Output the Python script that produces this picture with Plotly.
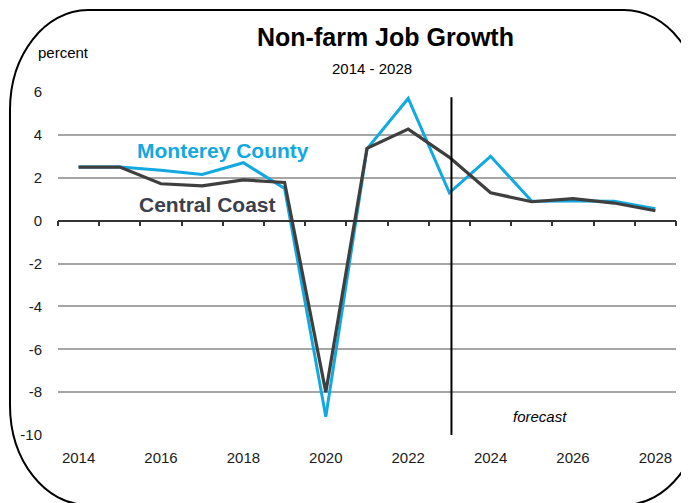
## Non-farm job growth, Monterey County vs Central Coast
import plotly.graph_objects as go

years = list(range(2014, 2029))
monterey = [2.5, 2.5, 2.35, 2.15, 2.7, 1.5, -9.15, 3.35, 5.7, 1.3, 3.0, 0.9, 0.92, 0.9, 0.55]
central_coast = [2.5, 2.5, 1.72, 1.62, 1.9, 1.78, -8.0, 3.37, 4.27, 2.95, 1.3, 0.88, 1.03, 0.82, 0.46]
year_labels = ['2014', '2016', '2018', '2020', '2022', '2024', '2026', '2028']
y_ticks = [6, 4, 2, 0, -2, -4, -6, -8, -10]
forecast_start = 2023

BLUE = '#12A8E0'
DARK = '#3F3F3F'
FONT = 'Liberation Sans, Arial, sans-serif'

OFF = 8                      # page body margin
W, H = 689 - OFF, 503 - OFF
# plot area in page pixels: 58..676 x 92..435
L, R, T, B = 58 - OFF, 689 - 676, 92 - OFF, 503 - 435


def px2paper(x, y):
    # page pixel -> paper coords
    x, y = x - OFF, y - OFF
    return (x - L) / (W - L - R), (H - B - y) / (H - T - B)


def rounded_frame(x0, y0, x1, y1, rx, ry):
    k = 0.5523
    pts = [
        ('M', [(x0 + rx, y0)]),
        ('L', [(x1 - rx, y0)]),
        ('C', [(x1 - rx + k * rx, y0), (x1, y0 + ry - k * ry), (x1, y0 + ry)]),
        ('L', [(x1, y1 - ry)]),
        ('C', [(x1, y1 - ry + k * ry), (x1 - rx + k * rx, y1), (x1 - rx, y1)]),
        ('L', [(x0 + rx, y1)]),
        ('C', [(x0 + rx - k * rx, y1), (x0, y1 - ry + k * ry), (x0, y1 - ry)]),
        ('L', [(x0, y0 + ry)]),
        ('C', [(x0, y0 + ry - k * ry), (x0 + rx - k * rx, y0), (x0 + rx, y0)]),
    ]
    out = ''
    for cmd, ps in pts:
        out += cmd + ' ' + ' '.join('%.4f,%.4f' % px2paper(*p) for p in ps) + ' '
    return out + 'Z'


def paper_xy(x, y):
    return dict(zip(('x', 'y'), px2paper(x, y)))


fig = go.Figure()
fig.add_trace(go.Scatter(x=years, y=monterey, mode='lines', line=dict(color=BLUE, width=3),
                         name='Monterey County'))
fig.add_trace(go.Scatter(x=years, y=central_coast, mode='lines', line=dict(color=DARK, width=3.2),
                         name='Central Coast'))
# invisible trace so the zero-line axis gets drawn
fig.add_trace(go.Scatter(x=[years[0]], y=[0], xaxis='x2', mode='markers',
                         marker=dict(opacity=0), hoverinfo='skip', showlegend=False))

fig.add_shape(type='line', xref='x', yref='y', x0=forecast_start + 0.05, x1=forecast_start + 0.05,
              y0=-10, y1=5.75, line=dict(color='black', width=2))
fig.add_shape(type='path', xref='paper', yref='paper', path=rounded_frame(10, 10, 702, 505, 78, 100),
              line=dict(color='black', width=2), fillcolor='rgba(0,0,0,0)')

fig.update_layout(
    width=W, height=H,
    margin=dict(l=L, r=R, t=T, b=B),
    paper_bgcolor='white', plot_bgcolor='white',
    showlegend=False,
    font=dict(family=FONT, size=14, color='#1a1a1a'),
    xaxis=dict(range=[2013.5, 2028.5], tickvals=[int(y) for y in year_labels], ticktext=year_labels,
               showgrid=False, zeroline=False, showline=False, ticks='', ticklabelstandoff=12,
               tickfont=dict(size=15), automargin=False),
    xaxis2=dict(range=[2013.5, 2028.5], overlaying='x', anchor='free', position=10 / 16,
                tickvals=[y - 0.5 for y in years] + [years[-1] + 0.5], showticklabels=False,
                ticks='outside', ticklen=5, tickcolor='#333333', tickwidth=1.5,
                showline=True, linecolor='#333333', linewidth=1.5, showgrid=False, zeroline=False),
    yaxis=dict(range=[-10, 6], tickvals=y_ticks, ticktext=[str(v) for v in y_ticks],
               showgrid=True, gridcolor='#a6a6a6', gridwidth=1.5,
               zeroline=False, showline=False, ticks='', ticklabelstandoff=15,
               tickfont=dict(size=15), automargin=False),
)

notes = [
    dict(text='<b>Non-farm Job Growth</b>', xref='paper', yref='paper', **paper_xy(385, 37),
         font=dict(size=25, color='black')),
    dict(text='2014 - 2028', xref='paper', yref='paper', **paper_xy(372, 68),
         font=dict(size=15, color='black')),
    dict(text='percent', xref='paper', yref='paper', **paper_xy(63, 52),
         font=dict(size=15, color='black')),
    dict(text='<b>Monterey County</b>', xref='x', yref='y', x=2017.5, y=3.25,
         font=dict(size=21, color=BLUE)),
    dict(text='<b>Central Coast</b>', xref='x', yref='y', x=2017.13, y=0.77,
         font=dict(size=21, color='#3B404C')),
    dict(text='<i>forecast</i>', xref='x', yref='y', x=2025.19, y=-9.15,
         font=dict(size=15, color='black')),
]
for n in notes:
    fig.add_annotation(showarrow=False, xanchor='center', yanchor='middle', **n)

fig.write_html('out.html')
